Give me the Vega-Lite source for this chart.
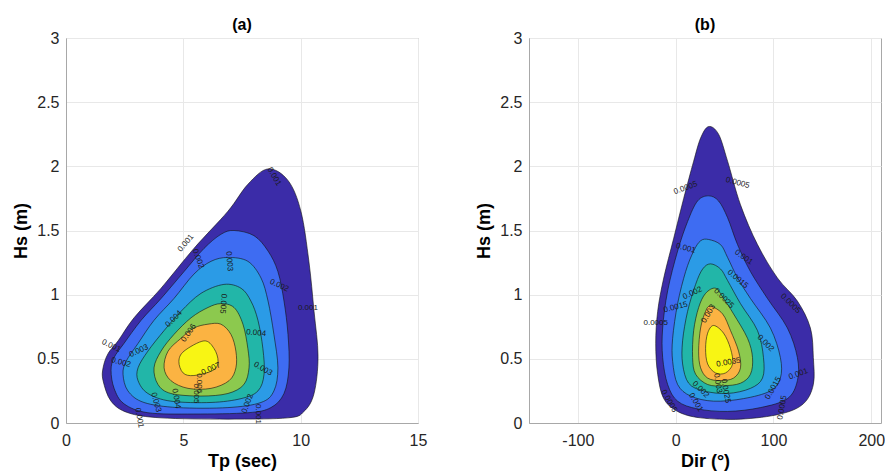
{
  "$schema": "https://vega.github.io/schema/vega-lite/v6.json",
  "padding": {"left": 12, "top": 16, "right": 0, "bottom": 0},
  "spacing": 47,
  "config": {
    "font": "Liberation Sans, Arial",
    "view": {"stroke": "#a8a8a8", "strokeWidth": 1},
    "axis": {
      "domainColor": "#a8a8a8", "gridColor": "#e8e8e8", "ticks": false, "tickSize": 0,
      "labelFontSize": 16, "labelColor": "#262626", "labelFont": "Liberation Sans, Arial",
      "titleFontSize": 18, "titleFontWeight": "bold", "titleColor": "#000000", "titleFont": "Liberation Sans, Arial",
      "labelFlush": false, "labelOverlap": false
    },
    "axisX": {"labelPadding": 9, "titlePadding": 4},
    "axisY": {"labelPadding": 7, "titlePadding": 6},
    "title": {"fontSize": 16, "fontWeight": "bold", "offset": -3, "color": "#000000", "frame": "group", "anchor": "middle", "font": "Liberation Sans, Arial"}
  },
  "datasets": {
    "ca": [
      {"lv":1,"i":0,"x":8.61,"y":1.98},{"lv":1,"i":1,"x":9.46,"y":1.89},{"lv":1,"i":2,"x":10.01,"y":1.65},{"lv":1,"i":3,"x":10.35,"y":1.26},{"lv":1,"i":4,"x":10.57,"y":0.87},{"lv":1,"i":5,"x":10.74,"y":0.52},{"lv":1,"i":6,"x":10.57,"y":0.23},{"lv":1,"i":7,"x":10.14,"y":0.09},{"lv":1,"i":8,"x":9.46,"y":0.04},{"lv":1,"i":9,"x":6.9,"y":0.03},{"lv":1,"i":10,"x":4.05,"y":0.04},{"lv":1,"i":11,"x":2.64,"y":0.08},{"lv":1,"i":12,"x":1.92,"y":0.17},{"lv":1,"i":13,"x":1.58,"y":0.33},{"lv":1,"i":14,"x":1.58,"y":0.43},{"lv":1,"i":15,"x":1.79,"y":0.54},{"lv":1,"i":16,"x":2.22,"y":0.64},{"lv":1,"i":17,"x":2.9,"y":0.82},{"lv":1,"i":18,"x":4.05,"y":1.05},{"lv":1,"i":19,"x":5.45,"y":1.36},{"lv":1,"i":20,"x":6.9,"y":1.65},{"lv":1,"i":21,"x":7.75,"y":1.86},
      {"lv":2,"i":0,"x":7.16,"y":1.5},{"lv":2,"i":1,"x":8.01,"y":1.46},{"lv":2,"i":2,"x":8.61,"y":1.34},{"lv":2,"i":3,"x":9.03,"y":1.18},{"lv":2,"i":4,"x":9.29,"y":0.95},{"lv":2,"i":5,"x":9.46,"y":0.69},{"lv":2,"i":6,"x":9.5,"y":0.43},{"lv":2,"i":7,"x":9.29,"y":0.23},{"lv":2,"i":8,"x":8.73,"y":0.12},{"lv":2,"i":9,"x":7.75,"y":0.08},{"lv":2,"i":10,"x":5.45,"y":0.07},{"lv":2,"i":11,"x":3.49,"y":0.08},{"lv":2,"i":12,"x":2.47,"y":0.15},{"lv":2,"i":13,"x":2.05,"y":0.27},{"lv":2,"i":14,"x":1.92,"y":0.41},{"lv":2,"i":15,"x":2.05,"y":0.51},{"lv":2,"i":16,"x":2.47,"y":0.62},{"lv":2,"i":17,"x":3.2,"y":0.8},{"lv":2,"i":18,"x":4.05,"y":0.97},{"lv":2,"i":19,"x":5.03,"y":1.18},{"lv":2,"i":20,"x":5.88,"y":1.36},{"lv":2,"i":21,"x":6.6,"y":1.47},
      {"lv":3,"i":0,"x":6.9,"y":1.29},{"lv":3,"i":1,"x":7.75,"y":1.26},{"lv":3,"i":2,"x":8.31,"y":1.13},{"lv":3,"i":3,"x":8.61,"y":0.95},{"lv":3,"i":4,"x":8.86,"y":0.69},{"lv":3,"i":5,"x":9.03,"y":0.43},{"lv":3,"i":6,"x":8.86,"y":0.25},{"lv":3,"i":7,"x":8.31,"y":0.16},{"lv":3,"i":8,"x":6.9,"y":0.12},{"lv":3,"i":9,"x":4.77,"y":0.12},{"lv":3,"i":10,"x":3.32,"y":0.16},{"lv":3,"i":11,"x":2.64,"y":0.25},{"lv":3,"i":12,"x":2.43,"y":0.38},{"lv":3,"i":13,"x":2.56,"y":0.48},{"lv":3,"i":14,"x":3.07,"y":0.62},{"lv":3,"i":15,"x":3.75,"y":0.8},{"lv":3,"i":16,"x":4.6,"y":0.97},{"lv":3,"i":17,"x":5.45,"y":1.16},{"lv":3,"i":18,"x":6.18,"y":1.26},
      {"lv":4,"i":0,"x":6.73,"y":1.08},{"lv":4,"i":1,"x":7.46,"y":1.05},{"lv":4,"i":2,"x":7.88,"y":0.95},{"lv":4,"i":3,"x":8.18,"y":0.8},{"lv":4,"i":4,"x":8.39,"y":0.58},{"lv":4,"i":5,"x":8.44,"y":0.38},{"lv":4,"i":6,"x":8.18,"y":0.25},{"lv":4,"i":7,"x":7.46,"y":0.19},{"lv":4,"i":8,"x":6.18,"y":0.16},{"lv":4,"i":9,"x":4.47,"y":0.17},{"lv":4,"i":10,"x":3.49,"y":0.23},{"lv":4,"i":11,"x":3.07,"y":0.33},{"lv":4,"i":12,"x":3.07,"y":0.43},{"lv":4,"i":13,"x":3.49,"y":0.56},{"lv":4,"i":14,"x":4.18,"y":0.72},{"lv":4,"i":15,"x":4.9,"y":0.87},{"lv":4,"i":16,"x":5.75,"y":1.01},
      {"lv":5,"i":0,"x":6.6,"y":0.93},{"lv":5,"i":1,"x":7.16,"y":0.9},{"lv":5,"i":2,"x":7.54,"y":0.77},{"lv":5,"i":3,"x":7.75,"y":0.58},{"lv":5,"i":4,"x":7.8,"y":0.43},{"lv":5,"i":5,"x":7.58,"y":0.3},{"lv":5,"i":6,"x":6.9,"y":0.23},{"lv":5,"i":7,"x":5.75,"y":0.21},{"lv":5,"i":8,"x":4.47,"y":0.23},{"lv":5,"i":9,"x":3.92,"y":0.3},{"lv":5,"i":10,"x":3.75,"y":0.43},{"lv":5,"i":11,"x":4.05,"y":0.56},{"lv":5,"i":12,"x":4.6,"y":0.69},{"lv":5,"i":13,"x":5.33,"y":0.82},{"lv":5,"i":14,"x":6.05,"y":0.9},
      {"lv":6,"i":0,"x":6.05,"y":0.77},{"lv":6,"i":1,"x":6.6,"y":0.77},{"lv":6,"i":2,"x":7.03,"y":0.69},{"lv":6,"i":3,"x":7.24,"y":0.56},{"lv":6,"i":4,"x":7.24,"y":0.43},{"lv":6,"i":5,"x":6.95,"y":0.33},{"lv":6,"i":6,"x":6.18,"y":0.27},{"lv":6,"i":7,"x":5.2,"y":0.27},{"lv":6,"i":8,"x":4.47,"y":0.33},{"lv":6,"i":9,"x":4.18,"y":0.43},{"lv":6,"i":10,"x":4.35,"y":0.56},{"lv":6,"i":11,"x":4.9,"y":0.66},{"lv":6,"i":12,"x":5.45,"y":0.74},
      {"lv":7,"i":0,"x":5.88,"y":0.64},{"lv":7,"i":1,"x":6.31,"y":0.58},{"lv":7,"i":2,"x":6.48,"y":0.48},{"lv":7,"i":3,"x":6.26,"y":0.41},{"lv":7,"i":4,"x":5.45,"y":0.37},{"lv":7,"i":5,"x":4.99,"y":0.39},{"lv":7,"i":6,"x":4.81,"y":0.48},{"lv":7,"i":7,"x":5.03,"y":0.56}
    ],
    "cb": [
      {"lv":1,"i":0,"x":33.7,"y":2.31},{"lv":1,"i":1,"x":43.9,"y":2.25},{"lv":1,"i":2,"x":53.1,"y":2.04},{"lv":1,"i":3,"x":66.3,"y":1.7},{"lv":1,"i":4,"x":83.7,"y":1.39},{"lv":1,"i":5,"x":104.1,"y":1.13},{"lv":1,"i":6,"x":124.5,"y":0.95},{"lv":1,"i":7,"x":137.8,"y":0.74},{"lv":1,"i":8,"x":140.8,"y":0.51},{"lv":1,"i":9,"x":140.8,"y":0.3},{"lv":1,"i":10,"x":130.6,"y":0.15},{"lv":1,"i":11,"x":107.1,"y":0.07},{"lv":1,"i":12,"x":66.3,"y":0.03},{"lv":1,"i":13,"x":25.5,"y":0.04},{"lv":1,"i":14,"x":2.0,"y":0.09},{"lv":1,"i":15,"x":-12.2,"y":0.19},{"lv":1,"i":16,"x":-18.4,"y":0.38},{"lv":1,"i":17,"x":-20.4,"y":0.62},{"lv":1,"i":18,"x":-18.4,"y":0.87},{"lv":1,"i":19,"x":-12.2,"y":1.13},{"lv":1,"i":20,"x":-2.0,"y":1.44},{"lv":1,"i":21,"x":8.2,"y":1.75},{"lv":1,"i":22,"x":18.4,"y":2.04},{"lv":1,"i":23,"x":25.5,"y":2.22},
      {"lv":2,"i":0,"x":33.7,"y":1.77},{"lv":2,"i":1,"x":43.9,"y":1.73},{"lv":2,"i":2,"x":53.1,"y":1.6},{"lv":2,"i":3,"x":63.3,"y":1.39},{"lv":2,"i":4,"x":76.5,"y":1.18},{"lv":2,"i":5,"x":93.9,"y":0.97},{"lv":2,"i":6,"x":114.3,"y":0.74},{"lv":2,"i":7,"x":124.5,"y":0.51},{"lv":2,"i":8,"x":124.5,"y":0.33},{"lv":2,"i":9,"x":114.3,"y":0.19},{"lv":2,"i":10,"x":86.7,"y":0.12},{"lv":2,"i":11,"x":53.1,"y":0.09},{"lv":2,"i":12,"x":22.4,"y":0.11},{"lv":2,"i":13,"x":2.0,"y":0.17},{"lv":2,"i":14,"x":-8.2,"y":0.3},{"lv":2,"i":15,"x":-13.3,"y":0.51},{"lv":2,"i":16,"x":-13.3,"y":0.74},{"lv":2,"i":17,"x":-8.2,"y":1.03},{"lv":2,"i":18,"x":2.0,"y":1.34},{"lv":2,"i":19,"x":12.2,"y":1.57},{"lv":2,"i":20,"x":22.4,"y":1.73},
      {"lv":3,"i":0,"x":33.7,"y":1.43},{"lv":3,"i":1,"x":45.9,"y":1.39},{"lv":3,"i":2,"x":53.1,"y":1.29},{"lv":3,"i":3,"x":63.3,"y":1.13},{"lv":3,"i":4,"x":76.5,"y":0.97},{"lv":3,"i":5,"x":96.9,"y":0.74},{"lv":3,"i":6,"x":107.1,"y":0.51},{"lv":3,"i":7,"x":107.1,"y":0.35},{"lv":3,"i":8,"x":96.9,"y":0.25},{"lv":3,"i":9,"x":69.4,"y":0.19},{"lv":3,"i":10,"x":38.8,"y":0.17},{"lv":3,"i":11,"x":15.3,"y":0.21},{"lv":3,"i":12,"x":2.0,"y":0.3},{"lv":3,"i":13,"x":-3.1,"y":0.48},{"lv":3,"i":14,"x":-3.1,"y":0.66},{"lv":3,"i":15,"x":2.0,"y":0.93},{"lv":3,"i":16,"x":10.2,"y":1.18},{"lv":3,"i":17,"x":18.4,"y":1.34},{"lv":3,"i":18,"x":25.5,"y":1.42},
      {"lv":4,"i":0,"x":35.7,"y":1.24},{"lv":4,"i":1,"x":45.9,"y":1.2},{"lv":4,"i":2,"x":53.1,"y":1.11},{"lv":4,"i":3,"x":66.3,"y":0.93},{"lv":4,"i":4,"x":83.7,"y":0.72},{"lv":4,"i":5,"x":89.8,"y":0.51},{"lv":4,"i":6,"x":88.8,"y":0.35},{"lv":4,"i":7,"x":76.5,"y":0.27},{"lv":4,"i":8,"x":53.1,"y":0.23},{"lv":4,"i":9,"x":28.6,"y":0.25},{"lv":4,"i":10,"x":13.3,"y":0.31},{"lv":4,"i":11,"x":7.1,"y":0.46},{"lv":4,"i":12,"x":7.1,"y":0.64},{"lv":4,"i":13,"x":12.2,"y":0.87},{"lv":4,"i":14,"x":20.4,"y":1.08},{"lv":4,"i":15,"x":27.6,"y":1.2},
      {"lv":5,"i":0,"x":40.8,"y":1.05},{"lv":5,"i":1,"x":49.0,"y":0.97},{"lv":5,"i":2,"x":59.2,"y":0.85},{"lv":5,"i":3,"x":73.5,"y":0.66},{"lv":5,"i":4,"x":78.6,"y":0.51},{"lv":5,"i":5,"x":76.5,"y":0.38},{"lv":5,"i":6,"x":66.3,"y":0.31},{"lv":5,"i":7,"x":49.0,"y":0.29},{"lv":5,"i":8,"x":32.7,"y":0.3},{"lv":5,"i":9,"x":20.4,"y":0.38},{"lv":5,"i":10,"x":17.3,"y":0.51},{"lv":5,"i":11,"x":18.4,"y":0.72},{"lv":5,"i":12,"x":23.5,"y":0.9},{"lv":5,"i":13,"x":30.6,"y":1.01},
      {"lv":6,"i":0,"x":35.7,"y":0.91},{"lv":6,"i":1,"x":48.0,"y":0.85},{"lv":6,"i":2,"x":56.1,"y":0.72},{"lv":6,"i":3,"x":64.3,"y":0.56},{"lv":6,"i":4,"x":66.3,"y":0.43},{"lv":6,"i":5,"x":59.2,"y":0.35},{"lv":6,"i":6,"x":45.9,"y":0.33},{"lv":6,"i":7,"x":32.7,"y":0.35},{"lv":6,"i":8,"x":25.5,"y":0.43},{"lv":6,"i":9,"x":23.5,"y":0.56},{"lv":6,"i":10,"x":25.5,"y":0.74},{"lv":6,"i":11,"x":30.6,"y":0.87},
      {"lv":7,"i":0,"x":38.8,"y":0.76},{"lv":7,"i":1,"x":49.0,"y":0.7},{"lv":7,"i":2,"x":56.1,"y":0.58},{"lv":7,"i":3,"x":58.2,"y":0.46},{"lv":7,"i":4,"x":51.0,"y":0.39},{"lv":7,"i":5,"x":40.8,"y":0.39},{"lv":7,"i":6,"x":32.7,"y":0.46},{"lv":7,"i":7,"x":30.6,"y":0.58},{"lv":7,"i":8,"x":32.7,"y":0.7}
    ],
    "la": [
      {"t":"0.001","x":8.86,"y":1.92,"a":60},{"t":"0.001","x":5.11,"y":1.4,"a":-50},{"t":"0.002","x":5.62,"y":1.28,"a":70},{"t":"0.003","x":6.95,"y":1.26,"a":85},{"t":"0.002","x":9.08,"y":1.07,"a":25},{"t":"0.001","x":10.31,"y":0.9,"a":0},{"t":"0.005","x":6.69,"y":0.93,"a":95},{"t":"0.004","x":4.6,"y":0.81,"a":-45},{"t":"0.006","x":5.24,"y":0.7,"a":-55},{"t":"0.004","x":8.1,"y":0.7,"a":5},{"t":"0.001","x":1.92,"y":0.6,"a":25},{"t":"0.002","x":2.34,"y":0.47,"a":15},{"t":"0.003","x":3.11,"y":0.56,"a":-25},{"t":"0.007","x":6.18,"y":0.42,"a":-25},{"t":"0.003","x":8.39,"y":0.42,"a":30},{"t":"0.006","x":5.67,"y":0.31,"a":90},{"t":"0.005","x":5.54,"y":0.23,"a":90},{"t":"0.004","x":4.69,"y":0.19,"a":80},{"t":"0.003","x":3.83,"y":0.16,"a":75},{"t":"0.001","x":3.11,"y":0.04,"a":80},{"t":"0.002","x":7.75,"y":0.15,"a":-70},{"t":"0.001","x":8.18,"y":0.07,"a":90}
    ],
    "lb": [
      {"t":"0.0005","x":10.2,"y":1.83,"a":-20},{"t":"0.0005","x":63.3,"y":1.87,"a":15},{"t":"0.001","x":10.2,"y":1.36,"a":15},{"t":"0.001","x":69.4,"y":1.29,"a":35},{"t":"0.0015","x":63.3,"y":1.12,"a":40},{"t":"0.002","x":17.3,"y":1.01,"a":-25},{"t":"0.0025","x":49.0,"y":0.97,"a":45},{"t":"0.0005","x":117.3,"y":0.93,"a":45},{"t":"0.0015","x":0,"y":0.9,"a":-15},{"t":"0.003","x":33.7,"y":0.85,"a":-60},{"t":"0.0005","x":-20.4,"y":0.78,"a":0},{"t":"0.002","x":91.8,"y":0.62,"a":45},{"t":"0.0035","x":54.1,"y":0.47,"a":-10},{"t":"0.001","x":125.5,"y":0.38,"a":-20},{"t":"0.003","x":42.9,"y":0.31,"a":80},{"t":"0.0025","x":51.0,"y":0.25,"a":80},{"t":"0.002","x":25.5,"y":0.26,"a":45},{"t":"0.0015","x":100.0,"y":0.27,"a":-60},{"t":"0.0005","x":-7.1,"y":0.17,"a":60},{"t":"0.001","x":20.4,"y":0.16,"a":60},{"t":"0.0005","x":109.2,"y":0.12,"a":-80}
    ]
  },
  "hconcat": [
    {
      "width": 352, "height": 385,
      "title": "(a)",
      "layer": [
        {
          "data": {"name": "ca"},
          "mark": {"type": "line", "interpolate": "cardinal-closed", "stroke": "#111111", "strokeWidth": 0.6},
          "encoding": {
            "x": {"field": "x", "type": "quantitative", "scale": {"domain": [0, 15], "nice": false, "zero": false}, "axis": {"values": [0, 5, 10, 15], "title": "Tp (sec)", "format": "d"}},
            "y": {"field": "y", "type": "quantitative", "scale": {"domain": [0, 3], "nice": false}, "axis": {"values": [0, 0.5, 1, 1.5, 2, 2.5, 3], "title": "Hs (m)", "format": "~r"}},
            "order": {"field": "i", "type": "quantitative"},
            "fill": {"field": "lv", "type": "ordinal", "scale": {"domain": [1, 2, 3, 4, 5, 6, 7], "range": ["#3b2ca8", "#3e6cf2", "#2b9be6", "#22b6a8", "#8cc94e", "#fbb342", "#f8f514"]}, "legend": null}
          }
        },
        {
          "data": {"name": "la"},
          "mark": {"type": "text", "fontSize": 8, "color": "#1a1a1a", "font": "Liberation Sans"},
          "encoding": {
            "x": {"field": "x", "type": "quantitative"},
            "y": {"field": "y", "type": "quantitative"},
            "text": {"field": "t"},
            "angle": {"field": "a", "type": "quantitative", "scale": null}
          }
        }
      ]
    },
    {
      "width": 352, "height": 385,
      "title": "(b)",
      "layer": [
        {
          "data": {"name": "cb"},
          "mark": {"type": "line", "interpolate": "cardinal-closed", "stroke": "#111111", "strokeWidth": 0.6},
          "encoding": {
            "x": {"field": "x", "type": "quantitative", "scale": {"domain": [-150, 210], "nice": false, "zero": false}, "axis": {"values": [-100, 0, 100, 200], "title": "Dir (°)", "labelExpr": "toString(datum.value)"}},
            "y": {"field": "y", "type": "quantitative", "scale": {"domain": [0, 3], "nice": false}, "axis": {"values": [0, 0.5, 1, 1.5, 2, 2.5, 3], "title": "Hs (m)", "format": "~r"}},
            "order": {"field": "i", "type": "quantitative"},
            "fill": {"field": "lv", "type": "ordinal", "scale": {"domain": [1, 2, 3, 4, 5, 6, 7], "range": ["#3b2ca8", "#3e6cf2", "#2b9be6", "#22b6a8", "#8cc94e", "#fbb342", "#f8f514"]}, "legend": null}
          }
        },
        {
          "data": {"name": "lb"},
          "mark": {"type": "text", "fontSize": 8, "color": "#1a1a1a", "font": "Liberation Sans"},
          "encoding": {
            "x": {"field": "x", "type": "quantitative"},
            "y": {"field": "y", "type": "quantitative"},
            "text": {"field": "t"},
            "angle": {"field": "a", "type": "quantitative", "scale": null}
          }
        }
      ]
    }
  ]
}
